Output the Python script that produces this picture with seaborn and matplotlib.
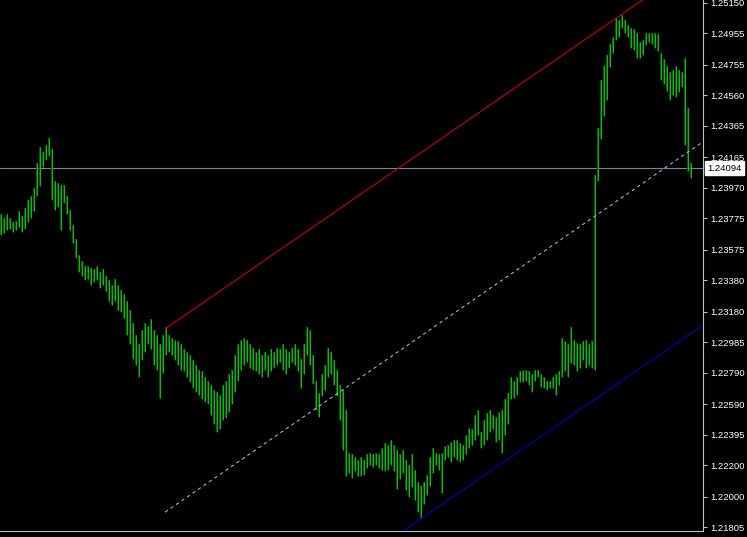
import numpy as np
import pandas as pd
import matplotlib
matplotlib.use("Agg")
import matplotlib.pyplot as plt
import matplotlib.transforms as mtransforms
import seaborn as sns

# bar highs / lows (one bar every 3 px)
highs = [
    1.2380, 1.2378, 1.2380, 1.2378, 1.2375, 1.2376, 1.2382, 1.2379, 1.2384, 1.2389,
    1.2392, 1.2397, 1.2413, 1.2423, 1.2420, 1.2424, 1.2429, 1.2422, 1.2401, 1.2400,
    1.2399, 1.2399, 1.2392, 1.2383, 1.2373, 1.2364, 1.2354, 1.2350, 1.2347, 1.2347,
    1.2346, 1.2345, 1.2347, 1.2343, 1.2345, 1.2341, 1.2338, 1.2335, 1.2339, 1.2335,
    1.2332, 1.2329, 1.2325, 1.2319, 1.2311, 1.2303, 1.2297, 1.2306, 1.2311, 1.2309,
    1.2313, 1.2306, 1.2303, 1.2297, 1.2303, 1.2308, 1.2303, 1.2301, 1.2300, 1.2299,
    1.2297, 1.2294, 1.2292, 1.2290, 1.2287, 1.2284, 1.2281, 1.2280, 1.2276, 1.2274,
    1.2271, 1.2268, 1.2267, 1.2265, 1.2271, 1.2274, 1.2278, 1.2281, 1.2290, 1.2297,
    1.2300, 1.2301, 1.2300, 1.2297, 1.2295, 1.2292, 1.2294, 1.2290, 1.2292, 1.2290,
    1.2294, 1.2292, 1.2295, 1.2294, 1.2297, 1.2294, 1.2292, 1.2295, 1.2297, 1.2294,
    1.2288, 1.2297, 1.2308, 1.2306, 1.2290, 1.2274, 1.2266, 1.2278, 1.2284, 1.2295,
    1.2292, 1.2287, 1.2281, 1.2271, 1.2268, 1.2255, 1.2228, 1.2227, 1.2225, 1.2223,
    1.2225, 1.2223, 1.2227, 1.2228, 1.2227, 1.2228, 1.2227, 1.2231, 1.2234, 1.2233,
    1.2236, 1.2233, 1.2230, 1.2227, 1.2230, 1.2223, 1.2220, 1.2227, 1.2217, 1.2209,
    1.2207, 1.2209, 1.2214, 1.2225, 1.2231, 1.2228, 1.2227, 1.2228, 1.2232, 1.2233,
    1.2235, 1.2236, 1.2236, 1.2234, 1.2233, 1.2239, 1.2244, 1.2243, 1.2252, 1.2255,
    1.2241, 1.2249, 1.2253, 1.2255, 1.2252, 1.2251, 1.2254, 1.2255, 1.2262, 1.2266,
    1.2276, 1.2274, 1.2276, 1.2280, 1.2281, 1.2281, 1.2280, 1.2278, 1.2281, 1.2281,
    1.2278, 1.2276, 1.2274, 1.2274, 1.2276, 1.2278, 1.2280, 1.2301, 1.2299, 1.2297,
    1.2308, 1.2300, 1.2298, 1.2297, 1.2299, 1.2300, 1.2297, 1.2299, 1.2405, 1.2435,
    1.2466, 1.2475, 1.2482, 1.2489, 1.2493, 1.2505, 1.2504, 1.2507, 1.2504, 1.2501,
    1.2499, 1.2498, 1.2496, 1.2490, 1.2491, 1.2496, 1.2496, 1.2496, 1.2496, 1.2495,
    1.2483, 1.2479, 1.2475, 1.2471, 1.2472, 1.2475, 1.2472, 1.2471, 1.2480, 1.2448,
    1.2413,
]
lows = [
    1.2367, 1.2368, 1.2370, 1.2371, 1.2369, 1.2370, 1.2372, 1.2369, 1.2371, 1.2375,
    1.2378, 1.2382, 1.2392, 1.2398, 1.2410, 1.2415, 1.2417, 1.2389, 1.2383, 1.2385,
    1.2370, 1.2387, 1.2380, 1.2370, 1.2362, 1.2352, 1.2343, 1.2341, 1.2338, 1.2339,
    1.2335, 1.2337, 1.2338, 1.2333, 1.2335, 1.2331, 1.2325, 1.2322, 1.2325, 1.2319,
    1.2318, 1.2314, 1.2303, 1.2297, 1.2288, 1.2284, 1.2276, 1.2287, 1.2292, 1.2297,
    1.2294, 1.2284, 1.2281, 1.2263, 1.2279, 1.2290, 1.2292, 1.2290, 1.2287, 1.2284,
    1.2281, 1.2280, 1.2276, 1.2273, 1.2269, 1.2267, 1.2265, 1.2262, 1.2260, 1.2259,
    1.2252, 1.2246, 1.2241, 1.2243, 1.2249, 1.2250, 1.2254, 1.2259, 1.2267, 1.2274,
    1.2281, 1.2284, 1.2286, 1.2282, 1.2281, 1.2280, 1.2278, 1.2276, 1.2281, 1.2276,
    1.2280, 1.2282, 1.2284, 1.2286, 1.2281, 1.2278, 1.2282, 1.2286, 1.2284, 1.2280,
    1.2269, 1.2278, 1.2290, 1.2284, 1.2272, 1.2255, 1.2251, 1.2264, 1.2268, 1.2276,
    1.2278, 1.2271, 1.2264, 1.2249, 1.2230, 1.2213, 1.2215, 1.2212, 1.2216, 1.2213,
    1.2213, 1.2214, 1.2218, 1.2220, 1.2219, 1.2220, 1.2218, 1.2217, 1.2216, 1.2217,
    1.2220, 1.2216, 1.2205, 1.2211, 1.2215, 1.2204, 1.2200, 1.2206, 1.2198, 1.2190,
    1.2186, 1.2195, 1.2201, 1.2207, 1.2215, 1.2220, 1.2217, 1.2202, 1.2223, 1.2225,
    1.2222, 1.2225, 1.2223, 1.2222, 1.2223, 1.2227, 1.2231, 1.2233, 1.2236, 1.2239,
    1.2231, 1.2233, 1.2236, 1.2241, 1.2243, 1.2235, 1.2236, 1.2228, 1.2239, 1.2246,
    1.2262, 1.2263, 1.2265, 1.2273, 1.2273, 1.2274, 1.2271, 1.2267, 1.2274, 1.2276,
    1.2270, 1.2269, 1.2268, 1.2269, 1.2269, 1.2265, 1.2271, 1.2276, 1.2280, 1.2276,
    1.2285, 1.2284, 1.2280, 1.2282, 1.2287, 1.2282, 1.2284, 1.2282, 1.2281, 1.2401,
    1.2428, 1.2443, 1.2453, 1.2474, 1.2483, 1.2491, 1.2493, 1.2499, 1.2496, 1.2493,
    1.2486, 1.2485, 1.2480, 1.2480, 1.2482, 1.2488, 1.2490, 1.2489, 1.2486, 1.2484,
    1.2466, 1.2463, 1.2459, 1.2453, 1.2456, 1.2455, 1.2458, 1.2461, 1.2424, 1.2408,
    1.2403,
]

price_ticks = [1.25150, 1.24955, 1.24755, 1.24560, 1.24365, 1.24165, 1.23970,
               1.23775, 1.23575, 1.23380, 1.23180, 1.22985, 1.22790, 1.22590,
               1.22395, 1.22200, 1.22000, 1.21805]
time_ticks = [0.33, 19.33, 39.33, 59.33, 79.33, 99.33, 119.33, 139.33,
              159.33, 179.33, 199.33, 219.33]
time_labels = ["12 Jan 2021", "12 Jan 10:00", "12 Jan 20:00", "13 Jan 06:00",
               "13 Jan 16:00", "14 Jan 02:00", "14 Jan 12:00", "14 Jan 22:00",
               "15 Jan 08:00", "15 Jan 18:00", "18 Jan 04:00", "18 Jan 14:00"]
bid_price = 1.24094

# channel anchors (bar index, price)
red_x, red_y = [54.7, 214.0], [1.2307, 1.2517]
mid_x, mid_y = [54.7, 236.0], [1.2190, 1.2429]
blue_x, blue_y = [134.0, 236.0], [1.2178, 1.2312]

bars = pd.DataFrame({"bar": np.arange(len(highs)), "high": highs, "low": lows})

sns.set_theme(style="dark", rc={"axes.facecolor": "black", "figure.facecolor": "black"})
plt.rcParams["font.family"] = ["Liberation Sans", "DejaVu Sans"]

fig = plt.figure(figsize=(7.47, 5.37), dpi=100)
ax = fig.add_axes([0, 6 / 537, 703 / 747, 531 / 537])
ax.set_facecolor("black")

# OHLC bars
ax.vlines(bars["bar"], bars["low"], bars["high"], colors="#005c00",
          linewidth=1.4, zorder=2)
ax.vlines(bars["bar"], bars["low"], bars["high"], colors="#00e400",
          linewidth=0.55, zorder=3)

# channel lines
sns.lineplot(x=red_x, y=red_y, ax=ax, color="#cc0000", linewidth=0.8, zorder=4)
sns.lineplot(x=mid_x, y=mid_y, ax=ax, color="#8fb8d8", linewidth=0.8,
             linestyle=(0, (3, 3)), zorder=4)
sns.lineplot(x=blue_x, y=blue_y, ax=ax, color="#0000cc", linewidth=0.8, zorder=4)

# bid line
ax.axhline(bid_price, color="#778899", linewidth=0.8, zorder=1)

ax.set_xlim(-1 / 3, 234)
ax.set_ylim(1.21780, 1.25168)

ax.yaxis.tick_right()
ax.set_yticks(price_ticks)
ax.set_yticklabels([f"{p:.5f}" for p in price_ticks])
ax.set_xticks(time_ticks)
ax.set_xticklabels(time_labels, ha="left")
ax.tick_params(axis="y", direction="out", length=3, width=0.8, color="#c0c0c0",
               labelcolor="white", labelsize=6.8, pad=2)
ax.tick_params(axis="x", direction="out", length=3, width=0.8, color="#c0c0c0",
               labelcolor="white", labelsize=6.8, pad=0.5)
ax.set_xlabel("")
ax.set_ylabel("")
ax.grid(False)

for side in ["left", "top"]:
    ax.spines[side].set_visible(False)
for side in ["right", "bottom"]:
    ax.spines[side].set_visible(True)
    ax.spines[side].set_color("#c0c0c0")
    ax.spines[side].set_linewidth(0.8)

trans = mtransforms.blended_transform_factory(ax.transAxes, ax.transData)
ax.text(1.0 + 4 / 703, bid_price, f"{bid_price:.5f}", transform=trans,
        ha="left", va="center", fontsize=6.8, color="black",
        bbox=dict(boxstyle="square,pad=0.25", facecolor="white", edgecolor="white"))

plt.savefig("out.png", dpi=100, facecolor="black")
